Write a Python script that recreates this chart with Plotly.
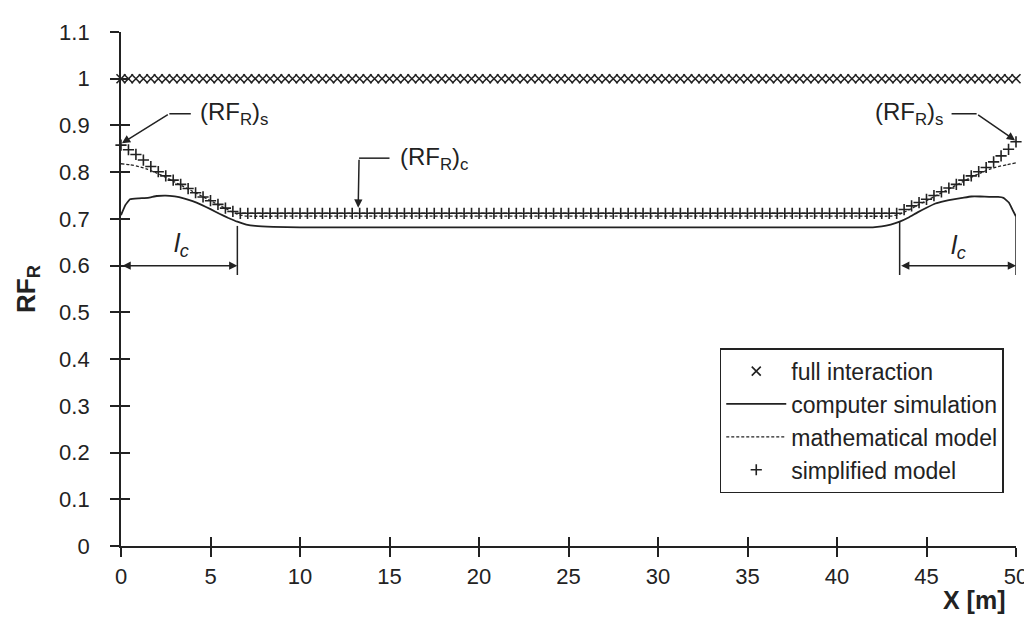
import plotly.graph_objects as go

FONT = "Liberation Sans"
INK = "#222222"

# ---------------- data ----------------
# marker series sampled every 50/120 m along the beam
x_marks = [round(i * 50 / 120, 4) for i in range(121)]

full_interaction = [1.0] * 121

simplified_model = (
    [0.858, 0.848, 0.838, 0.826, 0.812, 0.801, 0.792, 0.783,
     0.774, 0.765, 0.756, 0.747, 0.739, 0.731, 0.723, 0.716]
    + [0.712] * 89
    + [0.720, 0.728, 0.735, 0.742, 0.750, 0.758, 0.766, 0.774,
       0.783, 0.792, 0.801, 0.810, 0.822, 0.835, 0.849, 0.865]
)

sim_x = [0, 0.25, 0.5, 1.0, 1.5, 2.0, 2.5, 3.0, 3.5, 4.0, 4.5, 5.0, 5.5, 6.0,
         6.5, 7.0, 7.5, 8.5, 10, 15, 20, 25, 30, 35, 40, 42, 42.5, 43, 43.5,
         44, 44.5, 45, 45.5, 46, 46.5, 47, 47.5, 48, 48.5, 49, 49.3, 49.6,
         49.8, 50]
computer_simulation = [0.708, 0.730, 0.742, 0.744, 0.745, 0.749, 0.750, 0.748,
                       0.744, 0.738, 0.730, 0.721, 0.711, 0.702, 0.694, 0.688,
                       0.685, 0.683, 0.682, 0.682, 0.682, 0.682, 0.682, 0.682,
                       0.682, 0.682, 0.684, 0.688, 0.694, 0.703, 0.714, 0.724,
                       0.733, 0.738, 0.742, 0.745, 0.748, 0.748, 0.747, 0.747,
                       0.745, 0.735, 0.720, 0.705]

math_x = [0, 0.5, 1, 1.5, 2, 2.5, 3, 3.5, 4, 4.5, 5, 5.5, 6, 6.5, 7,
          10, 20, 30, 40,
          43, 43.5, 44, 44.5, 45, 45.5, 46, 46.5, 47, 47.5, 48, 48.5, 49, 49.5, 50]
mathematical_model = [0.818, 0.816, 0.812, 0.806, 0.798, 0.789, 0.779, 0.769,
                      0.759, 0.749, 0.739, 0.729, 0.719, 0.710, 0.706,
                      0.706, 0.706, 0.706, 0.706,
                      0.706, 0.710, 0.719, 0.729, 0.739, 0.749, 0.759, 0.769,
                      0.779, 0.789, 0.798, 0.806, 0.812, 0.816, 0.820]

x_ticks = [0, 5, 10, 15, 20, 25, 30, 35, 40, 45, 50]
x_tick_labels = ["0", "5", "10", "15", "20", "25", "30", "35", "40", "45", "50"]
y_ticks = [0, 0.1, 0.2, 0.3, 0.4, 0.5, 0.6, 0.7, 0.8, 0.9, 1.0, 1.1]
y_tick_labels = ["0", "0.1", "0.2", "0.3", "0.4", "0.5", "0.6", "0.7",
                 "0.8", "0.9", "1", "1.1"]

# ---------------- figure ----------------
fig = go.Figure()

fig.add_trace(go.Scatter(
    x=x_marks, y=full_interaction, mode="markers", name="full interaction",
    marker=dict(symbol="x-thin", size=9, line=dict(width=1.6, color=INK), color=INK),
    cliponaxis=False, legendgroup="a"))
fig.add_trace(go.Scatter(
    x=sim_x, y=computer_simulation, mode="lines", name="computer simulation",
    line=dict(color=INK, width=1.8, shape="spline", smoothing=0.3),
    cliponaxis=False, legendgroup="b"))
fig.add_trace(go.Scatter(
    x=math_x, y=mathematical_model, mode="lines", name="mathematical model",
    line=dict(color=INK, width=1.3, dash="3px,2px", shape="spline", smoothing=0.3),
    cliponaxis=False, legendgroup="c", xaxis="x2", yaxis="y2"))
fig.add_trace(go.Scatter(
    x=x_marks, y=simplified_model, mode="markers", name="simplified model",
    marker=dict(symbol="cross-thin", size=8, line=dict(width=1.6, color=INK), color=INK),
    cliponaxis=False, legendgroup="d"))

axis_common = dict(showgrid=False, zeroline=False, tickcolor=INK, tickwidth=1.5,
                   ticklen=9)

fig.update_layout(
    width=1032, height=618,
    margin=dict(l=113, r=19, t=21, b=80),
    paper_bgcolor="white", plot_bgcolor="white",
    font=dict(family=FONT, color=INK, size=21),
    xaxis=dict(range=[0, 50], tickvals=x_ticks, ticktext=x_tick_labels,
               ticks="outside", showline=True, linecolor=INK, linewidth=1.8,
               tickfont=dict(size=22, family=FONT, color=INK),
               ticklabelstandoff=1, **axis_common),
    yaxis=dict(range=[0, 1.1], tickvals=y_ticks, ticktext=y_tick_labels,
               ticks="outside", showline=True, linecolor=INK, linewidth=1.8,
               tickfont=dict(size=22, family=FONT, color=INK),
               ticklabelstandoff=16,
               title=dict(text="<b>RF<sub>R</sub></b>", standoff=16,
                          font=dict(size=26, family=FONT, color=INK)),
               **axis_common),
    xaxis2=dict(range=[0, 50], tickvals=x_ticks, overlaying="x", anchor="y2",
                ticks="inside", showticklabels=False, showline=False, **axis_common),
    yaxis2=dict(range=[0, 1.1], tickvals=y_ticks, overlaying="y", anchor="x2",
                side="left", ticks="inside", showticklabels=False, showline=False,
                **axis_common),
    legend=dict(x=0.669, y=0.385, xanchor="left", yanchor="top",
                bordercolor=INK, borderwidth=1.5, bgcolor="white",
                font=dict(size=23, family=FONT, color=INK),
                traceorder="grouped", tracegroupgap=0, itemwidth=60),
    showlegend=True,
)

# leader lines, arrows and labels
line_style = dict(color=INK, width=1.5)
shapes = [
    dict(type="line", xref="x", yref="y", x0=2.7, x1=3.9, y0=0.925, y1=0.925, line=line_style),
    dict(type="line", xref="x", yref="y", x0=13.3, x1=15.0, y0=0.83, y1=0.83, line=line_style),
    dict(type="line", xref="x", yref="y", x0=46.4, x1=47.8, y0=0.925, y1=0.925, line=line_style),
    dict(type="line", xref="x", yref="y", x0=6.5, x1=6.5, y0=0.58, y1=0.685, line=line_style),
    dict(type="line", xref="x", yref="y", x0=43.5, x1=43.5, y0=0.58, y1=0.695, line=line_style),
    dict(type="line", xref="x", yref="y", x0=50, x1=50, y0=0.58, y1=0.705, line=line_style),
]
fig.update_layout(shapes=shapes)

arrow_common = dict(text="", showarrow=True, axref="x", ayref="y", xref="x", yref="y",
                    arrowhead=2, arrowsize=1.1, arrowwidth=1.5, arrowcolor=INK,
                    standoff=0, startstandoff=0)
fig.add_annotation(x=0.05, y=0.862, ax=2.7, ay=0.925, **arrow_common)
fig.add_annotation(x=13.25, y=0.724, ax=13.3, ay=0.83, **arrow_common)
fig.add_annotation(x=49.95, y=0.868, ax=47.8, ay=0.925, **arrow_common)
fig.add_annotation(x=6.5, y=0.6, ax=0, ay=0.6, arrowside="end+start", **arrow_common)
fig.add_annotation(x=50, y=0.6, ax=43.5, ay=0.6, arrowside="end+start", **arrow_common)

label_font = dict(size=24, family=FONT, color=INK)
fig.add_annotation(x=4.3, y=0.925, xref="x", yref="y", xanchor="left", showarrow=False,
                   text="(RF<sub>R</sub>)<sub>s</sub>", font=label_font)
fig.add_annotation(x=15.5, y=0.83, xref="x", yref="y", xanchor="left", showarrow=False,
                   text="(RF<sub>R</sub>)<sub>c</sub>", font=label_font)
fig.add_annotation(x=46.1, y=0.925, xref="x", yref="y", xanchor="right", showarrow=False,
                   text="(RF<sub>R</sub>)<sub>s</sub>", font=label_font)
lc_font = dict(size=26, family=FONT, color=INK)
fig.add_annotation(x=3.4, y=0.645, xref="x", yref="y", showarrow=False,
                   text="<i>l</i><sub><i>c</i></sub>", font=lc_font)
fig.add_annotation(x=46.8, y=0.64, xref="x", yref="y", showarrow=False,
                   text="<i>l</i><sub><i>c</i></sub>", font=lc_font)

# x-axis title, right aligned below the tick labels
fig.add_annotation(x=0.991, y=-0.105, xref="paper", yref="paper", xanchor="right",
                   yanchor="middle", showarrow=False, text="<b>X [m]</b>",
                   font=dict(size=25, family=FONT, color=INK))

fig.write_html("out.html")
